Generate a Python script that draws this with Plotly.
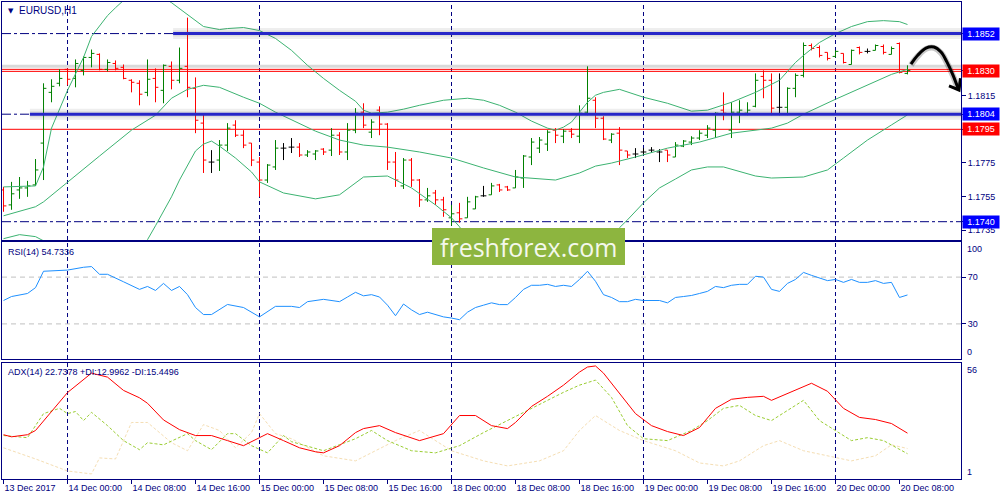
import plotly.graph_objects as go

# ---------------- data ----------------
days = ["13 Dec", "14 Dec", "15 Dec", "18 Dec", "19 Dec", "20 Dec"]
day_hours = [range(16, 24), range(24), range(24), range(24), range(24), range(10)]
bar_time = [f"{d} {h:02d}:00" for d, hrs in zip(days, day_hours) for h in hrs]
bar_idx = list(range(len(bar_time)))

tick_idx = list(range(0, 114, 8))
tick_text = ["13 Dec 2017", "14 Dec 00:00", "14 Dec 08:00", "14 Dec 16:00", "15 Dec 00:00",
             "15 Dec 08:00", "15 Dec 16:00", "18 Dec 00:00", "18 Dec 08:00", "18 Dec 16:00",
             "19 Dec 00:00", "19 Dec 08:00", "19 Dec 16:00", "20 Dec 00:00", "20 Dec 08:00"]
day_start_idx = [8, 32, 56, 80, 104]

open_ = [1.17589, 1.17500, 1.17589, 1.17601, 1.17619, 1.17868, 1.18170, 1.18224, 1.18307, 1.18253,
         1.18301, 1.18378, 1.18396, 1.18307, 1.18342, 1.18319, 1.18242, 1.18224, 1.18170, 1.18253,
         1.18182, 1.18325, 1.18242, 1.18325, 1.18194, 1.17987, 1.17755, 1.17767, 1.17856, 1.17975,
         1.17915, 1.17868, 1.17755, 1.17648, 1.17726, 1.17838, 1.17844, 1.17844, 1.17797, 1.17803,
         1.17832, 1.17826, 1.17915, 1.17815, 1.17945, 1.18052, 1.17933, 1.18064, 1.17981, 1.17755,
         1.17613, 1.17767, 1.17648, 1.17530, 1.17571, 1.17530, 1.17423, 1.17453, 1.17423, 1.17476,
         1.17554, 1.17560, 1.17619, 1.17607, 1.17601, 1.17660, 1.17785, 1.17838, 1.17862, 1.17945,
         1.17909, 1.17939, 1.17909, 1.18052, 1.18123, 1.18016, 1.17886, 1.17927, 1.17821, 1.17803,
         1.17815, 1.17826, 1.17815, 1.17826, 1.17785, 1.17850, 1.17874, 1.17898, 1.17915, 1.17945,
         1.18064, 1.17945, 1.18052, 1.18046, 1.18087, 1.18265, 1.18242, 1.18081, 1.18081, 1.18194,
         1.18271, 1.18449, 1.18437, 1.18408, 1.18384, 1.18402, 1.18336, 1.18437, 1.18414, 1.18420,
         1.18443, 1.18396, 1.18461, 1.18283]
high = [1.17607, 1.17637, 1.17666, 1.17643, 1.17773, 1.18224, 1.18248, 1.18307, 1.18313, 1.18366,
        1.18384, 1.18425, 1.18402, 1.18366, 1.18360, 1.18336, 1.18248, 1.18242, 1.18366, 1.18313,
        1.18336, 1.18354, 1.18437, 1.18615, 1.18259, 1.18046, 1.17826, 1.17886, 1.17987, 1.18004,
        1.17945, 1.17868, 1.17785, 1.17743, 1.17886, 1.17868, 1.17898, 1.17868, 1.17826, 1.17826,
        1.17838, 1.17957, 1.17933, 1.17987, 1.18076, 1.18105, 1.18010, 1.18087, 1.17987, 1.17815,
        1.17779, 1.17779, 1.17654, 1.17601, 1.17589, 1.17548, 1.17500, 1.17512, 1.17548, 1.17554,
        1.17613, 1.17631, 1.17625, 1.17613, 1.17708, 1.17797, 1.17898, 1.17904, 1.17945, 1.17957,
        1.17951, 1.17957, 1.18093, 1.18325, 1.18141, 1.18028, 1.17927, 1.17963, 1.17821, 1.17838,
        1.17838, 1.17844, 1.17832, 1.17826, 1.17874, 1.17886, 1.17909, 1.17945, 1.17975, 1.18052,
        1.18170, 1.18111, 1.18123, 1.18111, 1.18283, 1.18301, 1.18283, 1.18283, 1.18200, 1.18283,
        1.18467, 1.18461, 1.18449, 1.18408, 1.18420, 1.18402, 1.18425, 1.18443, 1.18431, 1.18455,
        1.18455, 1.18443, 1.18467, 1.18331]
low = [1.17459, 1.17471, 1.17536, 1.17548, 1.17613, 1.17648, 1.18111, 1.18206, 1.18212, 1.18200,
       1.18271, 1.18319, 1.18301, 1.18295, 1.18301, 1.18248, 1.18170, 1.18093, 1.18147, 1.18111,
       1.18105, 1.18188, 1.18224, 1.18141, 1.17927, 1.17690, 1.17690, 1.17702, 1.17821, 1.17904,
       1.17838, 1.17731, 1.17548, 1.17631, 1.17708, 1.17767, 1.17809, 1.17785, 1.17785, 1.17767,
       1.17797, 1.17791, 1.17797, 1.17767, 1.17927, 1.17957, 1.17898, 1.17915, 1.17708, 1.17607,
       1.17595, 1.17607, 1.17488, 1.17518, 1.17500, 1.17429, 1.17376, 1.17394, 1.17423, 1.17476,
       1.17548, 1.17560, 1.17577, 1.17583, 1.17601, 1.17601, 1.17737, 1.17809, 1.17821, 1.17868,
       1.17868, 1.17898, 1.17868, 1.18034, 1.17957, 1.17886, 1.17868, 1.17737, 1.17779, 1.17779,
       1.17797, 1.17809, 1.17755, 1.17755, 1.17785, 1.17844, 1.17856, 1.17886, 1.17898, 1.17898,
       1.18004, 1.17898, 1.17987, 1.18034, 1.18081, 1.18135, 1.18034, 1.18034, 1.18034, 1.18141,
       1.18259, 1.18420, 1.18378, 1.18360, 1.18378, 1.18342, 1.18336, 1.18396, 1.18402, 1.18420,
       1.18396, 1.18396, 1.18283, 1.18277]
close = [1.17494, 1.17566, 1.17601, 1.17613, 1.17708, 1.18194, 1.18206, 1.18253, 1.18248, 1.18342,
         1.18378, 1.18402, 1.18307, 1.18348, 1.18313, 1.18253, 1.18230, 1.18159, 1.18248, 1.18200,
         1.18331, 1.18242, 1.18313, 1.18200, 1.18004, 1.17767, 1.17755, 1.17856, 1.17957, 1.17915,
         1.17856, 1.17767, 1.17648, 1.17737, 1.17838, 1.17838, 1.17844, 1.17797, 1.17815, 1.17821,
         1.17815, 1.17915, 1.17815, 1.17945, 1.18046, 1.17975, 1.17993, 1.17981, 1.17755, 1.17648,
         1.17767, 1.17648, 1.17530, 1.17554, 1.17530, 1.17471, 1.17447, 1.17417, 1.17518, 1.17548,
         1.17554, 1.17613, 1.17589, 1.17589, 1.17666, 1.17791, 1.17874, 1.17886, 1.17933, 1.17915,
         1.17939, 1.17921, 1.18046, 1.18135, 1.18016, 1.17892, 1.17921, 1.17826, 1.17797, 1.17803,
         1.17815, 1.17826, 1.17815, 1.17797, 1.17856, 1.17880, 1.17898, 1.17927, 1.17957, 1.18046,
         1.18046, 1.18052, 1.18064, 1.18064, 1.18242, 1.18242, 1.18076, 1.18081, 1.18194, 1.18271,
         1.18449, 1.18431, 1.18390, 1.18372, 1.18414, 1.18348, 1.18420, 1.18408, 1.18414, 1.18449,
         1.18408, 1.18431, 1.18289, 1.18301]

# Bollinger bands (read at selected bars)
upper_idx = [0, 4, 5, 6, 8, 10, 11, 13, 14, 15, 17, 19, 20, 21, 22, 23, 24, 25, 27, 28, 30, 32, 34, 36,
             38, 40, 42, 44, 45, 46, 48, 50, 52, 55, 58, 60, 62, 64, 66, 68, 69, 70, 71, 72, 73, 74, 75,
             77, 80, 83, 86, 88, 91, 94, 97, 99, 100, 102, 104, 106, 108, 110, 112, 113]
upper_val = [1.17607, 1.17613, 1.17726, 1.17957, 1.18182, 1.18378, 1.18503, 1.18627, 1.18674, 1.18716,
             1.18805, 1.18775, 1.18734, 1.18704, 1.18669, 1.18633, 1.18597, 1.18562, 1.18544, 1.18550,
             1.18556, 1.18538, 1.18491, 1.18420, 1.18331, 1.18253, 1.18182, 1.18117, 1.18064, 1.18046,
             1.18052, 1.18070, 1.18093, 1.18123, 1.18135, 1.18123, 1.18093, 1.18052, 1.17999, 1.17957,
             1.17945, 1.17963, 1.17993, 1.18052, 1.18111, 1.18153, 1.18170, 1.18188, 1.18141, 1.18105,
             1.18058, 1.18064, 1.18111, 1.18170, 1.18242, 1.18348, 1.18390, 1.18467, 1.18520, 1.18562,
             1.18591, 1.18597, 1.18591, 1.18574]
middle_idx = [0, 4, 5, 8, 12, 16, 19, 21, 23, 25, 27, 30, 32, 34, 37, 39, 42, 45, 48, 52, 56, 60, 64, 67,
              69, 72, 74, 76, 79, 83, 87, 91, 94, 96, 98, 100, 104, 108, 111, 113]
middle_val = [1.17435, 1.17489, 1.17518, 1.17637, 1.17791, 1.17945, 1.18034, 1.18135, 1.18188, 1.18212,
              1.18200, 1.18141, 1.18105, 1.18052, 1.17987, 1.17939, 1.17886, 1.17856, 1.17844, 1.17815,
              1.17779, 1.17720, 1.17666, 1.17654, 1.17648, 1.17690, 1.17731, 1.17749, 1.17785, 1.17838,
              1.17874, 1.17927, 1.17945, 1.17957, 1.17987, 1.18040, 1.18129, 1.18212, 1.18277, 1.18307]
lower_idx = [0, 2, 4, 6, 10, 14, 16, 17, 18, 19, 20, 21, 22, 23, 24, 25, 26, 27, 29, 31, 32, 35, 39, 42,
             44, 45, 48, 51, 54, 56, 57, 58, 60, 66, 72, 75, 77, 78, 80, 82, 84, 86, 88, 90, 94, 96, 100,
             103, 105, 108, 111, 113]
lower_val = [1.17299, 1.17323, 1.17311, 1.17263, 1.17162, 1.17115, 1.17162, 1.17222, 1.17293, 1.17376,
             1.17459, 1.17548, 1.17648, 1.17731, 1.17821, 1.17862, 1.17880, 1.17850, 1.17779, 1.17696,
             1.17637, 1.17571, 1.17536, 1.17560, 1.17631, 1.17666, 1.17672, 1.17601, 1.17500, 1.17423,
             1.17370, 1.17293, 1.17204, 1.17115, 1.17162, 1.17246, 1.17364, 1.17411, 1.17512, 1.17601,
             1.17654, 1.17708, 1.17726, 1.17726, 1.17672, 1.17660, 1.17666, 1.17708, 1.17779, 1.17886,
             1.17976, 1.18036]

# RSI(14)
rsi_idx = [0, 1, 3, 4, 5, 8, 10, 11, 12, 13, 15, 17, 18, 19, 20, 21, 22, 23, 24, 25, 26, 28, 30, 32, 34,
           36, 37, 38, 40, 42, 43, 44, 45, 46, 47, 48, 49, 50, 51, 52, 53, 54, 55, 56, 57, 58, 59, 60,
           61, 62, 63, 64, 65, 66, 67, 68, 69, 70, 71, 72, 73, 74, 75, 76, 77, 78, 79, 80, 82, 83, 84,
           85, 86, 87, 88, 89, 90, 91, 92, 93, 94, 95, 96, 97, 98, 99, 100, 101, 102, 103, 104, 105,
           106, 107, 108, 109, 110, 111, 112, 113]
rsi_val = [50, 53.4, 56, 61, 75, 76, 78.4, 79, 72.4, 72.4, 66, 59.5, 62, 58.6, 64.6, 58.6, 62, 55, 44,
           38, 38, 46.6, 44, 36, 45, 45, 44, 49, 51, 49, 53, 57, 54, 55, 53, 46, 37, 47, 42, 38, 40, 38,
           36, 35, 33.6, 40, 44, 46, 48, 46.5, 46.5, 52.6, 59.5, 63, 63, 63.8, 62, 63, 62, 68, 75, 66.4,
           55, 52.6, 49, 49, 51, 50, 50, 48, 52.6, 53.4, 54.3, 56, 57.8, 62, 61, 63, 63.8, 63.8, 70.7,
           70, 59.5, 57.8, 64.6, 68, 74, 71.5, 69, 67, 68, 65.5, 68, 65.5, 65.5, 67, 64.6, 65.5, 52.6,
           54.7336]
rsi_levels = [70, 30]

# ADX(14), +DI, -DI
adx_idx = [0, 1, 3, 4, 8, 11, 13, 15, 17, 18, 20, 22, 24, 26, 28, 30, 32, 33, 35, 37, 39, 40, 42, 44,
           45, 47, 49, 52, 55, 57, 59, 61, 63, 64, 66, 68, 70, 72, 73, 74, 75, 77, 79, 81, 83, 85, 87,
           89, 91, 93, 95, 96, 98, 101, 103, 105, 107, 109, 111, 113]
adx_val = [22, 21, 22, 24, 42, 51.2, 49.3, 43, 39.5, 36.9, 29, 24.4, 21.6, 21.6, 19.2, 16.8, 20.6, 22.5,
           19.2, 15.8, 13.9, 13.4, 16.8, 23, 24.9, 26.3, 23, 19.2, 22.5, 31.1, 31.1, 26.3, 24.9, 27.8,
           35.4, 40.2, 45.5, 51.7, 54.1, 54.6, 51.2, 41.6, 32, 26.3, 23.5, 21.6, 25.4, 34.5, 38.8,
           39.7, 40.2, 38.3, 41.6, 46.4, 42.6, 34.5, 30.2, 29.2, 27.3, 22.7378]
pdi_idx = [0, 3, 5, 7, 8, 9, 10, 11, 13, 15, 17, 18, 19, 20, 23, 24, 26, 28, 29, 31, 33, 35, 36, 40, 44,
           46, 48, 51, 54, 57, 60, 63, 66, 68, 70, 72, 74, 76, 78, 80, 83, 86, 88, 90, 92, 94, 96, 98,
           100, 102, 104, 106, 108, 110, 113]
pdi_val = [21.6, 20.6, 32, 34.5, 32, 33, 28.7, 32.6, 26.3, 19.2, 14.9, 18.2, 17.7, 17.2, 22.5, 19.2,
           14.9, 22.5, 22.5, 16.8, 13.4, 21.6, 18.7, 14.4, 20.1, 24, 19.2, 14.4, 13.4, 16.8, 23, 28.7,
           34.5, 38.3, 42.1, 45.5, 47.9, 39.7, 26.3, 20.1, 19.2, 24, 28.7, 34.5, 35.9, 31.1, 28.7, 33.5,
           38.3, 28.7, 24, 19.2, 20.6, 19.2, 12.9962]
mdi_idx = [0, 4, 8, 11, 12, 14, 16, 18, 21, 23, 25, 27, 29, 31, 32, 34, 36, 40, 44, 49, 52, 56, 60, 63,
           67, 70, 72, 74, 77, 80, 84, 87, 90, 92, 95, 97, 100, 103, 106, 109, 111, 113]
mdi_val = [15.8, 10.5, 4.8, 3.4, 11, 10.5, 27.8, 27.8, 18.2, 14.4, 26.8, 24, 15.8, 23, 32, 22.5, 20.1,
           12, 9.6, 19.2, 24, 14.4, 9.6, 7.2, 9.6, 14.4, 24, 31.1, 24, 19.2, 14.4, 8.6, 7.2, 9.6, 16.8,
           19.2, 14.4, 12, 9.6, 12, 17.2, 15.4496]

# price levels drawn on the chart
dashdot_levels = [1.1852, 1.1804, 1.1740]
blue_levels = [1.1852, 1.1804]
blue_start_idx = [21.2, 3.3]
red_level = 1.1795
bid_levels = [1.18307, 1.18295]
shadow_level = 1.18325
price_ticks = [1.1815, 1.1775, 1.1755, 1.1735]
boxed_levels = [1.1852, 1.1830, 1.1804, 1.1795, 1.1740]
boxed_colors = ["#0000ff", "#ff0000", "#0000ff", "#ff0000", "#0000ff"]

# hand-drawn arrow (bar index, price)
arrow_x = [113.44, 114.31, 115.31, 116.31, 117.19, 117.94, 118.69, 119.31]
arrow_y = [1.18338, 1.18392, 1.18434, 1.18440, 1.18410, 1.18350, 1.18273, 1.18196]
arrowhead_x = [118.19, 119.44, 119.62]
arrowhead_y = [1.18208, 1.18184, 1.18255]

# ---------------- layout helpers ----------------
PL, PR, PT, PB = 2, 961, 2, 479          # plot frame in pixels
def fy(py):
    return (PB - py) / (PB - PT)
def fx(px):
    return (px - PL) / (PR - PL)

NAVY = "#000080"
FONT = "Liberation Sans, Arial"
FS = 9
x_range = [-0.19, 119.69]
price_range = [1.17291, 1.18708]

fig = go.Figure()

# OHLC bars
norm = [i for i in bar_idx if open_[i] != close[i]]
doji = [i for i in bar_idx if open_[i] == close[i]]
def pick(arr, ids):
    return [arr[i] for i in ids]

fig.add_trace(go.Ohlc(x=norm, open=pick(open_, norm), high=pick(high, norm), low=pick(low, norm),
                      close=pick(close, norm), tickwidth=0.36, hoverinfo="skip",
                      increasing=dict(line=dict(color="#008000", width=1)),
                      decreasing=dict(line=dict(color="#ff0000", width=1)),
                      xaxis="x", yaxis="y"))
fig.add_trace(go.Ohlc(x=doji, open=pick(open_, doji), high=pick(high, doji), low=pick(low, doji),
                      close=pick(close, doji), tickwidth=0.36, hoverinfo="skip",
                      increasing=dict(line=dict(color="#000000", width=1)),
                      decreasing=dict(line=dict(color="#000000", width=1)),
                      xaxis="x", yaxis="y"))

BB = "#3cb371"
for xi, yv in [(upper_idx, upper_val), (middle_idx, middle_val), (lower_idx, lower_val)]:
    fig.add_trace(go.Scatter(x=xi, y=yv, mode="lines", line=dict(color=BB, width=1),
                             hoverinfo="skip", xaxis="x", yaxis="y"))

# arrow (shadow + line)
fig.add_trace(go.Scatter(x=arrow_x, y=[v - 0.00005 for v in arrow_y], mode="lines",
                         line=dict(color="rgba(0,0,0,0.22)", width=6, shape="spline"),
                         hoverinfo="skip", xaxis="x", yaxis="y"))
fig.add_trace(go.Scatter(x=arrow_x, y=arrow_y, mode="lines",
                         line=dict(color="#000000", width=3, shape="spline"),
                         hoverinfo="skip", xaxis="x", yaxis="y"))
fig.add_trace(go.Scatter(x=arrowhead_x, y=arrowhead_y, mode="lines",
                         line=dict(color="#000000", width=3),
                         hoverinfo="skip", xaxis="x", yaxis="y"))

# RSI
fig.add_trace(go.Scatter(x=rsi_idx, y=rsi_val, mode="lines", line=dict(color="#1e90ff", width=1),
                         hoverinfo="skip", xaxis="x2", yaxis="y2"))
# ADX
fig.add_trace(go.Scatter(x=mdi_idx, y=mdi_val, mode="lines",
                         line=dict(color="#f5deb3", width=1, dash="3px,2px"),
                         hoverinfo="skip", xaxis="x3", yaxis="y3"))
fig.add_trace(go.Scatter(x=pdi_idx, y=pdi_val, mode="lines",
                         line=dict(color="#9acd32", width=1, dash="3px,2px"),
                         hoverinfo="skip", xaxis="x3", yaxis="y3"))
fig.add_trace(go.Scatter(x=adx_idx, y=adx_val, mode="lines", line=dict(color="#ff0000", width=1),
                         hoverinfo="skip", xaxis="x3", yaxis="y3"))

shapes = []
# day separators in every panel
for d in day_start_idx:
    for xr_, yr_ in [("x", "y domain"), ("x2", "y2 domain"), ("x3", "y3 domain")]:
        shapes.append(dict(type="line", xref=xr_, yref=yr_, x0=d, x1=d, y0=0, y1=1, layer="below",
                           line=dict(color=NAVY, width=1, dash="4px,3px")))
for lv in dashdot_levels:
    shapes.append(dict(type="line", xref="x domain", yref="y", x0=0, x1=1, y0=lv, y1=lv,
                       line=dict(color=NAVY, width=1, dash="dashdot"), layer="below"))
shapes.append(dict(type="line", xref="x domain", yref="y", x0=0, x1=1, y0=shadow_level, y1=shadow_level,
                   line=dict(color="rgba(170,170,170,0.45)", width=3), layer="below"))
for lv in bid_levels:
    shapes.append(dict(type="line", xref="x domain", yref="y", x0=0, x1=1, y0=lv, y1=lv,
                       line=dict(color="#ff0000", width=1), layer="below"))
shapes.append(dict(type="line", xref="x domain", yref="y", x0=0, x1=1, y0=red_level, y1=red_level,
                   line=dict(color="#ff0000", width=1), layer="below"))
for lv, st in zip(blue_levels, blue_start_idx):
    shapes.append(dict(type="line", xref="x", yref="y", x0=st, x1=x_range[1], y0=lv, y1=lv,
                       line=dict(color="rgba(90,90,90,0.10)", width=11), layer="above"))
    shapes.append(dict(type="line", xref="x", yref="y", x0=st, x1=x_range[1], y0=lv, y1=lv,
                       line=dict(color="rgba(90,90,90,0.12)", width=6), layer="above"))
    shapes.append(dict(type="line", xref="x", yref="y", x0=st, x1=x_range[1], y0=lv, y1=lv,
                       line=dict(color="#2626c8", width=3), layer="above"))
for lv in rsi_levels:
    shapes.append(dict(type="line", xref="x2 domain", yref="y2", x0=0, x1=1, y0=lv, y1=lv,
                       line=dict(color="#c0c0c0", width=1, dash="5px,4px"), layer="below"))
# watermark
shapes.append(dict(type="rect", xref="paper", yref="paper", x0=fx(432), x1=fx(625), y0=fy(265),
                   y1=fy(228), fillcolor="#8db53f", line=dict(width=0), layer="above"))

annotations = []
for lv, col in zip(boxed_levels, boxed_colors):
    annotations.append(dict(xref="paper", yref="y", x=1, y=lv, xanchor="left", yanchor="middle",
                            xshift=1, text=f"{lv:.4f}", showarrow=False, bgcolor=col,
                            width=36, height=12, align="center", borderpad=0,
                            font=dict(family=FONT, size=FS, color="white")))
annotations += [
    dict(xref="paper", yref="y2", x=1, y=100, xanchor="left", yanchor="top", xshift=4, text="100",
         showarrow=False, font=dict(family=FONT, size=FS, color=NAVY)),
    dict(xref="paper", yref="y2", x=1, y=0, xanchor="left", yanchor="bottom", xshift=4, text="0",
         showarrow=False, font=dict(family=FONT, size=FS, color=NAVY)),
    dict(xref="paper", yref="y3", x=1, y=56, xanchor="left", yanchor="top", xshift=4, text="56",
         showarrow=False, font=dict(family=FONT, size=FS, color=NAVY)),
    dict(xref="paper", yref="y3", x=1, y=1, xanchor="left", yanchor="bottom", xshift=4, text="1",
         showarrow=False, font=dict(family=FONT, size=FS, color=NAVY)),
    dict(xref="paper", yref="paper", x=fx(6), y=fy(11), xanchor="left", yanchor="middle", text="▼",
         showarrow=False, font=dict(family="DejaVu Sans", size=7, color=NAVY)),
    dict(xref="paper", yref="paper", x=fx(17), y=fy(11), xanchor="left", yanchor="middle",
         text="EURUSD,H1", showarrow=False, font=dict(family="Liberation Sans", size=10, color=NAVY)),
    dict(xref="paper", yref="paper", x=fx(6), y=fy(252), xanchor="left", yanchor="middle",
         text="RSI(14) 54.7336", showarrow=False, font=dict(family=FONT, size=FS, color=NAVY)),
    dict(xref="paper", yref="paper", x=fx(6), y=fy(372), xanchor="left", yanchor="middle",
         text="ADX(14) 22.7378 +DI:12.9962 -DI:15.4496", showarrow=False,
         font=dict(family=FONT, size=FS, color=NAVY)),
    dict(xref="paper", yref="paper", x=(fx(432) + fx(625)) / 2, y=(fy(265) + fy(228)) / 2,
         xanchor="center", yanchor="middle", text="freshforex.com", showarrow=False,
         font=dict(family="Open Sans", size=25, color="#f4f8ec")),
]

frame = dict(showline=True, mirror=True, linecolor=NAVY, linewidth=1, showgrid=False, zeroline=False,
             automargin=False)

fig.update_layout(
    width=1000, height=500, margin=dict(l=PL, r=1000 - PR, t=PT, b=500 - PB, autoexpand=False),
    paper_bgcolor="white", plot_bgcolor="white", showlegend=False, hovermode=False,
    xaxis=dict(domain=[0, 1], anchor="y", range=x_range, showticklabels=False, ticks="",
               rangeslider=dict(visible=False), **frame),
    xaxis2=dict(domain=[0, 1], anchor="y2", matches="x", showticklabels=False, ticks="", **frame),
    xaxis3=dict(domain=[0, 1], anchor="y3", matches="x", tickmode="array", tickvals=tick_idx,
                ticktext=tick_text, ticks="outside", ticklen=4, tickcolor=NAVY, tickangle=0,
                ticklabelposition="outside right",
                tickfont=dict(family=FONT, size=FS, color=NAVY), **frame),
    yaxis=dict(domain=[fy(240), fy(PT)], anchor="x", side="right", range=price_range,
               tickmode="array", tickvals=price_ticks + boxed_levels,
               ticktext=[f"{v:.4f}" for v in price_ticks] + [""] * len(boxed_levels),
               ticks="outside", ticklen=4, tickcolor=NAVY,
               tickfont=dict(family=FONT, size=FS, color=NAVY), **frame),
    yaxis2=dict(domain=[fy(359), fy(242)], anchor="x2", side="right", range=[0, 100],
                tickmode="array", tickvals=rsi_levels, ticktext=[str(v) for v in rsi_levels],
                ticks="outside", ticklen=4, tickcolor=NAVY,
                tickfont=dict(family=FONT, size=FS, color=NAVY), **frame),
    yaxis3=dict(domain=[0, fy(363)], anchor="x3", side="right", range=[1, 56],
                showticklabels=False, ticks="", **frame),
    shapes=shapes, annotations=annotations,
)

fig.write_html("out.html", config={"displayModeBar": False, "staticPlot": True},
               post_script="document.body.style.margin='0';")
